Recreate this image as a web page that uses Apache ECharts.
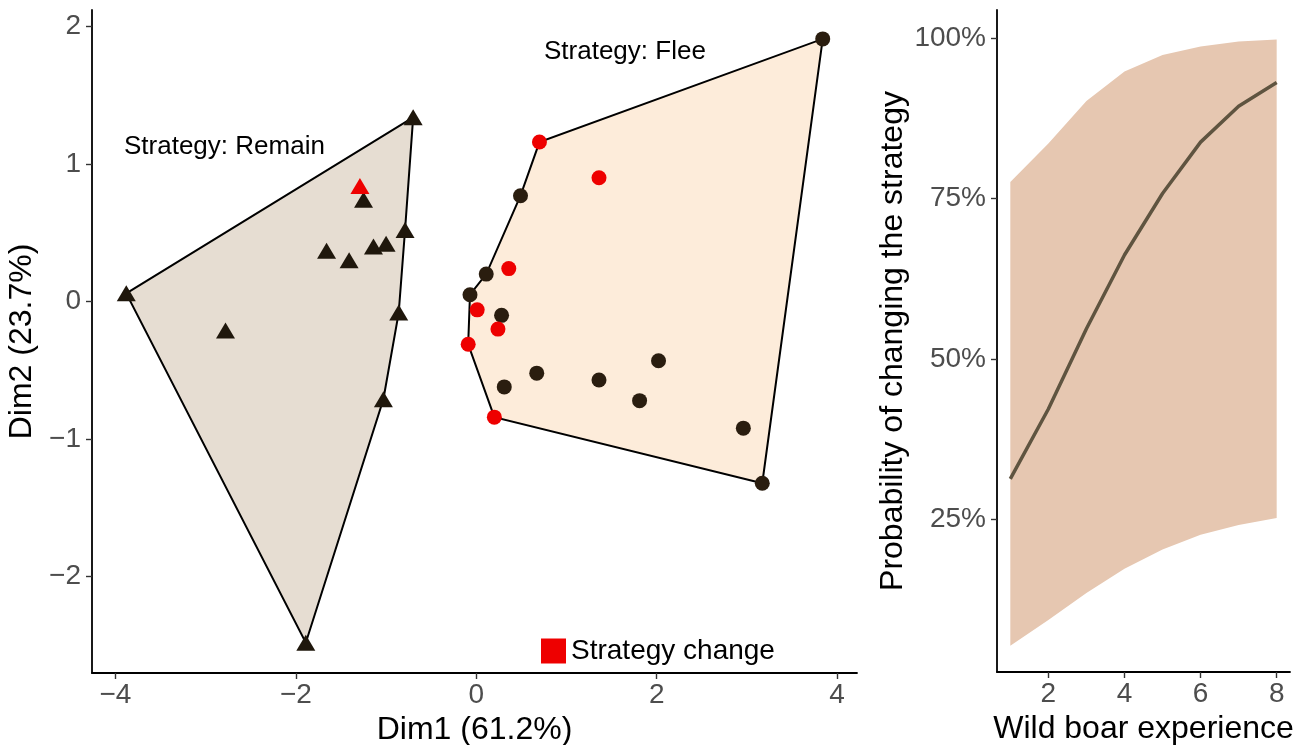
<!DOCTYPE html>
<html>
<head>
<meta charset="utf-8">
<script src="https://cdn.jsdelivr.net/npm/echarts@6/dist/echarts.min.js"></script>
<style>
  html, body { margin: 0; padding: 0; background: #fff; }
  #main { width: 1309px; height: 745px; }
</style>
</head>
<body>
<div id="main"></div>
<script>
// PCA scores, strategy "Remain" (triangles)
const remainDim1 = [-0.70, -3.88, -2.78, -1.29, -1.25, -1.66, -1.41, -1.14, -1.00, -0.79, -0.86, -1.03, -1.89]
const remainDim2 = [1.34, 0.06, -0.21, 0.84, 0.74, 0.37, 0.30, 0.40, 0.42, 0.52, -0.08, -0.71, -2.48]
const remainChange = [0, 0, 0, 1, 0, 0, 0, 0, 0, 0, 0, 0, 0]
const remainHull = [1, 0, 9, 10, 11, 12]

// PCA scores, strategy "Flee" (circles)
const fleeDim1 = [3.84, 0.70, 1.36, 0.49, 0.11, 0.36, -0.07, 0.01, 0.28, 0.24, -0.09, 0.31, 0.67, 1.36, 2.02, 1.81, 2.96, 0.20, 3.17]
const fleeDim2 = [1.91, 1.16, 0.90, 0.77, 0.20, 0.24, 0.05, -0.06, -0.10, -0.20, -0.31, -0.62, -0.52, -0.57, -0.43, -0.72, -0.92, -0.84, -1.32]
const fleeChange = [0, 1, 1, 0, 0, 1, 0, 1, 0, 1, 1, 0, 0, 0, 0, 0, 0, 1, 0]
const fleeHull = [0, 18, 17, 10, 6, 4, 3, 1]

// logistic fit: probability of changing strategy (%)
const experience = [1, 2, 3, 4, 5, 6, 7, 8]
const probFit = [31.3, 42.2, 54.7, 66.2, 75.8, 83.8, 89.4, 93.1]
const probLower = [5.3, 9.3, 13.5, 17.3, 20.3, 22.6, 24.1, 25.2]
const probUpper = [77.6, 83.6, 90.2, 94.8, 97.4, 98.7, 99.5, 99.8]

const dimTicks = [-4, -2, 0, 2, 4]
const dim2Ticks = [-2, -1, 0, 1, 2]
const expTicks = [2, 4, 6, 8]
const probTicks = [25, 50, 75, 100]

const pick = (xs, ys, flags, want) =>
  xs.map((x, i) => [x, ys[i], flags[i]]).filter(p => p[2] === want).map(p => [p[0], p[1]])
const hullPts = (xs, ys, idx) => idx.map(i => [xs[i], ys[i]])

const changeData = []
remainDim1.forEach((x, i) => {
  if (remainChange[i]) changeData.push({ value: [x, remainDim2[i]], symbol: 'triangle', symbolSize: [19, 16] })
})
fleeDim1.forEach((x, i) => {
  if (fleeChange[i]) changeData.push({ value: [x, fleeDim2[i]], symbol: 'circle', symbolSize: 15 })
})

const minus = v => String(v).replace('-', '\u2212')
const tickFont = { fontFamily: 'Liberation Sans', fontSize: 28, color: '#4d4d4d' }
const titleFont = { fontFamily: 'Liberation Sans', fontSize: 32, color: '#000' }
const axisLine = { show: true, onZero: false, lineStyle: { color: '#000', width: 1.8 } }

function polygonSeries(points, fill, gridIdx) {
  return {
    type: 'custom',
    xAxisIndex: gridIdx,
    yAxisIndex: gridIdx,
    z: 1,
    silent: true,
    data: points,
    renderItem: function (params, api) {
      if (params.dataIndex !== 0) return null
      return {
        type: 'polygon',
        shape: { points: points.map(p => api.coord(p)) },
        style: { fill: fill, stroke: gridIdx === 0 ? '#000' : null, lineWidth: 2 }
      }
    }
  }
}

const ribbon = experience.map((x, i) => [x, probUpper[i]])
  .concat(experience.map((x, i) => [x, probLower[i]]).reverse())

const chart = echarts.init(document.getElementById('main'))
chart.setOption({
  animation: false,
  textStyle: { fontFamily: 'Liberation Sans' },
  grid: [
    { left: 92, right: 452, top: 10, bottom: 72, outerBoundsMode: 'none' },
    { left: 997, right: 19, top: 10, bottom: 73, outerBoundsMode: 'none' }
  ],
  xAxis: [
    {
      type: 'value', gridIndex: 0, min: -4.26, max: 4.22,
      name: 'Dim1 (61.2%)', nameLocation: 'middle', nameGap: 38, nameTextStyle: titleFont,
      splitLine: { show: false },
      axisLine: axisLine,
      axisTick: { customValues: dimTicks, length: 6, lineStyle: { color: '#333', width: 1.4 } },
      axisLabel: Object.assign({ customValues: dimTicks, margin: 8, formatter: minus }, tickFont)
    },
    {
      type: 'value', gridIndex: 1, min: 0.65, max: 8.35,
      name: 'Wild boar experience', nameLocation: 'middle', nameGap: 38, nameTextStyle: titleFont,
      splitLine: { show: false },
      axisLine: axisLine,
      axisTick: { customValues: expTicks, length: 6, lineStyle: { color: '#333', width: 1.4 } },
      axisLabel: Object.assign({ customValues: expTicks, margin: 8 }, tickFont)
    }
  ],
  yAxis: [
    {
      type: 'value', gridIndex: 0, min: -2.70, max: 2.12,
      name: 'Dim2 (23.7%)', nameLocation: 'middle', nameGap: 43, nameTextStyle: titleFont,
      splitLine: { show: false },
      axisLine: axisLine,
      axisTick: { show: true, customValues: dim2Ticks, length: 6, lineStyle: { color: '#333', width: 1.4 } },
      axisLabel: Object.assign({ customValues: dim2Ticks, margin: 11, formatter: minus }, tickFont)
    },
    {
      type: 'value', gridIndex: 1, min: 1.2, max: 104.4,
      name: 'Probability of changing the strategy', nameLocation: 'middle', nameGap: 88, nameTextStyle: titleFont,
      splitLine: { show: false },
      axisLine: axisLine,
      axisTick: { show: true, customValues: probTicks, length: 6, lineStyle: { color: '#333', width: 1.4 } },
      axisLabel: Object.assign({ customValues: probTicks, margin: 11, formatter: '{value}%' }, tickFont)
    }
  ],
  legend: {
    data: [{ name: 'Strategy change', icon: 'rect' }],
    left: 536, top: 632,
    itemWidth: 25, itemHeight: 25, itemGap: 6,
    textStyle: { fontFamily: 'Liberation Sans', fontSize: 28, color: '#000' }
  },
  graphic: [
    { type: 'text', left: 124, top: 134, style: { text: 'Strategy: Remain', fontFamily: 'Liberation Sans', fontSize: 26, fill: '#000' } },
    { type: 'text', left: 544, top: 39, style: { text: 'Strategy: Flee', fontFamily: 'Liberation Sans', fontSize: 26, fill: '#000' } }
  ],
  series: [
    polygonSeries(hullPts(remainDim1, remainDim2, remainHull), '#e6ddd2', 0),
    polygonSeries(hullPts(fleeDim1, fleeDim2, fleeHull), '#fdecda', 0),
    {
      name: 'Remain', type: 'scatter', xAxisIndex: 0, yAxisIndex: 0, z: 3,
      symbol: 'triangle', symbolSize: [19, 16],
      itemStyle: { color: '#1f170c', opacity: 1 },
      data: pick(remainDim1, remainDim2, remainChange, 0)
    },
    {
      name: 'Flee', type: 'scatter', xAxisIndex: 0, yAxisIndex: 0, z: 3,
      symbol: 'circle', symbolSize: 15,
      itemStyle: { color: '#2a1d0f', opacity: 1 },
      data: pick(fleeDim1, fleeDim2, fleeChange, 0)
    },
    {
      name: 'Strategy change', type: 'scatter', xAxisIndex: 0, yAxisIndex: 0, z: 4,
      itemStyle: { color: '#ee0000', opacity: 1 },
      data: changeData
    },
    polygonSeries(ribbon, '#e6c7b1', 1),
    {
      name: 'Fit', type: 'line', xAxisIndex: 1, yAxisIndex: 1, z: 3,
      showSymbol: false, symbol: 'none',
      lineStyle: { color: '#5f5440', width: 3.5 },
      data: experience.map((x, i) => [x, probFit[i]])
    }
  ]
})
</script>
</body>
</html>
